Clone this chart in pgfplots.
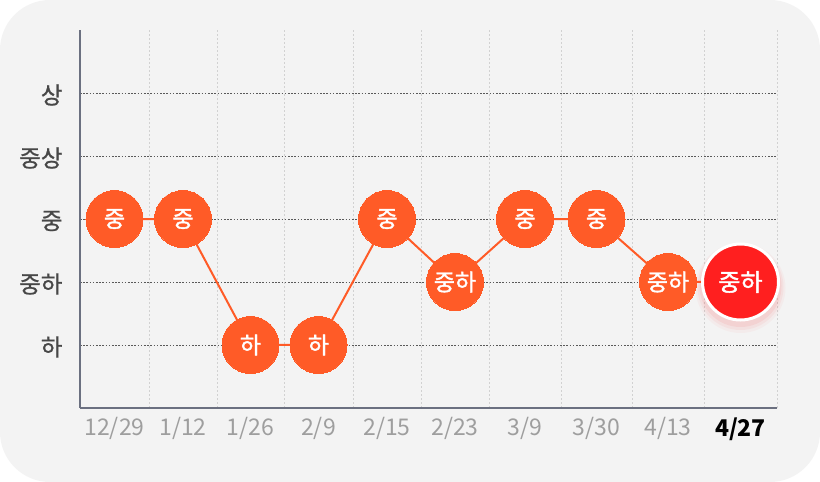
\documentclass[border=0pt]{standalone}
\usepackage{pgfplots}
\pgfplotsset{compat=1.18}
\usepackage{pgfplotstable}
\usepackage{fontspec}
\setmainfont{Noto Sans CJK KR}
\newfontfamily\krmed[FakeBold=0.9]{Noto Sans CJK KR}
\newfontfamily\krsemi[FakeBold=1.6]{Noto Sans CJK KR}
\definecolor{bgcol}{HTML}{F3F3F3}
\definecolor{orng}{HTML}{FF5B27}
\definecolor{redc}{HTML}{FF1F1F}
\definecolor{axcol}{HTML}{6B7080}
\definecolor{ylab}{HTML}{474747}
\definecolor{xlab}{HTML}{9E9E9E}
\pgfplotstableread{
x y label
114.5 3 중
183 3 중
250.5 1 하
318.5 1 하
387 3 중
455 2 중하
525 3 중
596.5 3 중
668 2 중하
}\firstpts
\pgfplotstableread{
x y label
114.5 3 중
183 3 중
250.5 1 하
318.5 1 하
387 3 중
455 2 중하
525 3 중
596.5 3 중
668 2 중하
740.5 2 중하
}\allpts
\pgfplotstableread{
x y label
740.5 2 중하
}\lastpt
\begin{document}
\begin{tikzpicture}[x=1pt,y=1pt]
\fill[white] (0,0) rectangle (820,482);
\fill[bgcol, rounded corners=50pt] (0,0) rectangle (820,482);
\begin{axis}[
  at={(80pt,74pt)}, anchor=south west,
  scale only axis, width=697pt, height=378pt,
  xmin=80, xmax=777, ymin=0, ymax=6,
  axis lines=left,
  axis line style={-, draw=axcol, line width=1.2pt},
  clip=false,
  xtick={114.5,183,250.5,318.5,387,455,525,596.5,668,740.5},
  xticklabels={12/29,1/12,1/26,2/9,2/15,2/23,3/9,3/30,4/13,{\color{black}\bfseries 4/27}},
  minor xtick={149,217,284,353,421,489,561,632,704,777},
  xminorgrids,
  minor grid style={draw=black!18, line width=0.8pt, dash pattern=on 2pt off 2pt},
  ytick={1,2,3,4,5},
  yticklabels={하,중하,중,중상,상},
  ymajorgrids,
  major grid style={draw=black!65, line width=0.9pt, dash pattern=on 1.6pt off 1.6pt},
  major tick length=0pt, minor tick length=0pt,
  xticklabel style={font=\fontsize{23}{26}\selectfont, text=xlab, yshift=-6pt},
  yticklabel style={font=\krmed\fontsize{23.5}{26}\selectfont, text=ylab, xshift=-14pt, yshift=-2pt},
]
\addplot[orng, line width=2pt, no marks] table[x=x,y=y] {\allpts};
\addplot[orng, only marks, mark=*, mark size=28.5pt, mark options={fill=orng, draw=orng, line width=0pt},
  point meta=explicit symbolic,
  nodes near coords, nodes near coords align={center},
  every node near coord/.append style={font=\krsemi\fontsize{23}{24}\selectfont, text=white, anchor=center}]
  table[x=x,y=y,meta=label] {\firstpts};
\addplot[redc, only marks, mark=*, mark size=45pt, mark options={fill=redc, draw opacity=0, fill opacity=0.035, yshift=-6pt}] table[x=x,y=y] {\lastpt};
\addplot[redc, only marks, mark=*, mark size=43pt, mark options={fill=redc, draw opacity=0, fill opacity=0.05, yshift=-5pt}] table[x=x,y=y] {\lastpt};
\addplot[redc, only marks, mark=*, mark size=41pt, mark options={fill=redc, draw opacity=0, fill opacity=0.07, yshift=-4pt}] table[x=x,y=y] {\lastpt};
\addplot[redc, only marks, mark=*, mark size=38pt, mark options={fill=redc, draw=white, line width=3pt},
  point meta=explicit symbolic,
  nodes near coords, nodes near coords align={center},
  every node near coord/.append style={font=\krsemi\fontsize{24}{26}\selectfont, text=white, anchor=center}]
  table[x=x,y=y,meta=label] {\lastpt};
\end{axis}
\end{tikzpicture}
\end{document}
